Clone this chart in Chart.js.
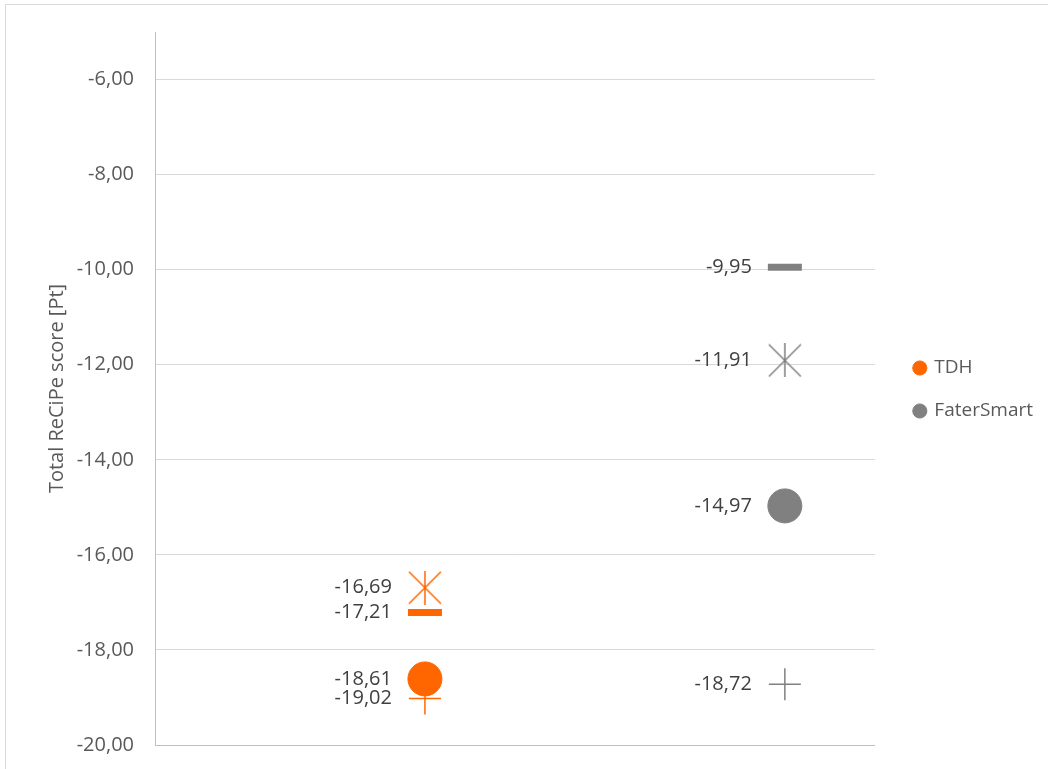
<!DOCTYPE html>
<html>
<head>
<meta charset="utf-8">
<script src="https://cdn.jsdelivr.net/npm/chart.js@4.4.1/dist/chart.umd.min.js"></script>
<style>
    body { margin: 0; background: #fff; }
    #frame { position: absolute; left: 5px; top: 4px; width: 1100px; height: 800px; border: 1px solid #d9d9d9; }
    #wrap { position: absolute; left: 0; top: 0; width: 1048px; height: 769px; }
</style>
</head>
<body>
<div id="frame"></div>
<div id="wrap"><canvas id="recipeChart"></canvas></div>
<script>
// --- Chart data ---
const seriesNames = ['TDH', 'FaterSmart'];
const seriesX = [1.5, 3.5];
const seriesColors = ['#ff6600', '#808080'];
// one value per marker type: circle, star, dash, plus
const markerTypes = ['circle', 'star', 'dash', 'plus'];
const tdhValues = [-18.61, -16.69, -17.21, -19.02];
const faterSmartValues = [-14.97, -11.91, -9.95, -18.72];
const yTicks = { min: -20, max: -5, step: 2 };

const fmt = (v) => v.toFixed(2).replace('.', ',');

// Excel-style star marker: X with a vertical stroke
function makeStar(color) {
    const c = document.createElement('canvas');
    c.width = 34;
    c.height = 34;
    const g = c.getContext('2d');
    g.strokeStyle = color;
    g.lineWidth = 1.5;
    g.beginPath();
    g.moveTo(1, 1); g.lineTo(33, 33);
    g.moveTo(33, 1); g.lineTo(1, 33);
    g.moveTo(17, 0); g.lineTo(17, 34);
    g.stroke();
    return c;
}

function buildDataset(label, x, values, color) {
    const styleFor = { circle: 'circle', star: makeStar(color), dash: 'line', plus: 'cross' };
    const radiusFor = { circle: 17, star: 17, dash: 17, plus: 16 };
    const widthFor = { circle: 1, star: 1.5, dash: 7, plus: 1.5 };
    return {
        label: label,
        data: values.map(v => ({ x: x, y: v })),
        pointStyle: markerTypes.map(m => styleFor[m]),
        pointRadius: markerTypes.map(m => radiusFor[m]),
        pointHoverRadius: markerTypes.map(m => radiusFor[m]),
        pointBorderWidth: markerTypes.map(m => widthFor[m]),
        backgroundColor: color,
        borderColor: color,
        showLine: false
    };
}

// data labels to the left of each marker
const valueLabels = {
    id: 'valueLabels',
    afterDatasetsDraw(chart) {
        const ctx = chart.ctx;
        ctx.save();
        ctx.font = '20px "Open Sans"';
        ctx.fillStyle = '#404040';
        ctx.textAlign = 'right';
        ctx.textBaseline = 'middle';
        chart.data.datasets.forEach((ds, i) => {
            chart.getDatasetMeta(i).data.forEach((pt, j) => {
                ctx.fillText(fmt(ds.data[j].y), pt.x - 33, pt.y);
            });
        });
        ctx.restore();
    }
};

// nudge the legend box: a bit right of the plot area and up
const legendShift = {
    id: 'legendShift',
    afterLayout(chart) {
        const lg = chart.legend;
        if (lg) {
            lg.left += 16;
            lg.right += 16;
            lg.top -= 11;
            lg.bottom -= 11;
        }
    }
};

document.addEventListener('DOMContentLoaded', () => {
    const ctx = document.getElementById('recipeChart').getContext('2d');
    new Chart(ctx, {
        type: 'scatter',
        data: {
            datasets: [
                buildDataset(seriesNames[0], seriesX[0], tdhValues, seriesColors[0]),
                buildDataset(seriesNames[1], seriesX[1], faterSmartValues, seriesColors[1])
            ]
        },
        options: {
            responsive: true,
            maintainAspectRatio: false,
            animation: false,
            layout: { autoPadding: false, padding: { top: 32, right: 21, left: 0, bottom: 0 } },
            plugins: {
                tooltip: { enabled: false },
                legend: {
                    position: 'right',
                    labels: {
                        usePointStyle: true,
                        pointStyle: 'circle',
                        boxWidth: 10,
                        boxHeight: 10,
                        padding: 24,
                        color: '#595959',
                        font: { family: 'Open Sans', size: 19 }
                    }
                }
            },
            scales: {
                x: {
                    type: 'linear',
                    min: 0,
                    max: 4,
                    ticks: { display: false },
                    grid: { display: false },
                    border: { color: '#bfbfbf', width: 1 },
                    afterFit: (scale) => { scale.height = 24; }
                },
                y: {
                    min: yTicks.min,
                    max: yTicks.max,
                    ticks: {
                        stepSize: yTicks.step,
                        includeBounds: false,
                        padding: 2,
                        color: '#595959',
                        font: { family: 'Open Sans', size: 20 },
                        callback: (v) => fmt(v)
                    },
                    // invisible tick marks keep the labels clear of the axis
                    grid: { color: '#d9d9d9', drawTicks: true, tickLength: 19, tickColor: 'rgba(0,0,0,0)' },
                    border: { color: '#bfbfbf', width: 1 },
                    title: {
                        display: true,
                        text: 'Total ReCiPe score [Pt]',
                        color: '#595959',
                        font: { family: 'Open Sans', size: 20 },
                        padding: { top: 45, bottom: 0 }
                    },
                    afterFit: (scale) => { scale.width = 155; }
                }
            }
        },
        plugins: [valueLabels, legendShift]
    });
});
</script>
</body>
</html>
